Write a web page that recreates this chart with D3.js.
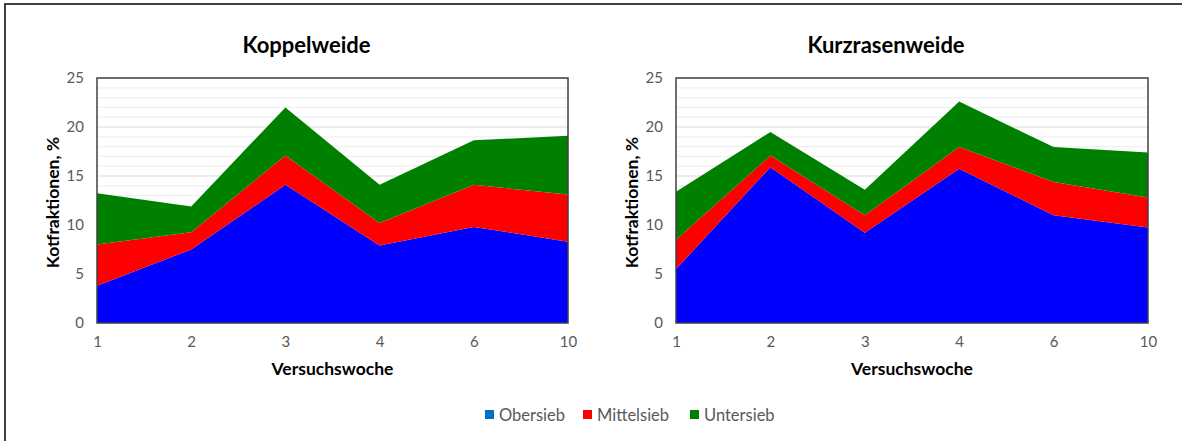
<!DOCTYPE html>
<html>
<head>
<meta charset="utf-8">
<script src="https://cdn.jsdelivr.net/npm/d3@7"></script>
<style>
  body { margin: 0; background: #fff; overflow: hidden; }
  text { font-family: Lato, "Open Sans", sans-serif; }
</style>
</head>
<body>
<script>
// categories (Versuchswoche)
let weeks = ['1', '2', '3', '4', '6', '10'];
let seriesNames = ['Obersieb', 'Mittelsieb', 'Untersieb'];
let yTicks = [0, 5, 10, 15, 20, 25];

// Koppelweide
let koppelOber = [3.8, 7.5, 14.1, 7.9, 9.8, 8.3];
let koppelMittel = [4.2, 1.75, 3.0, 2.3, 4.3, 4.8];
let koppelUnter = [5.25, 2.65, 4.9, 3.9, 4.55, 6.0];

// Kurzrasenweide
let kurzOber = [5.5, 15.9, 9.2, 15.75, 11.0, 9.75];
let kurzMittel = [3.0, 1.2, 1.8, 2.2, 3.4, 3.05];
let kurzUnter = [4.9, 2.4, 2.6, 4.65, 3.55, 4.6];

let areaColors = ['#0000ff', '#ff0000', '#008000'];
let legendColors = ['#0070c0', '#ff0000', '#008000'];

let width = 1182;
let height = 441;

let svg = d3.select('body')
    .append('svg')
    .attr('width', width)
    .attr('height', height)
    .style('display', 'block');

// outer frame (cropped on right/bottom)
svg.append('rect')
    .attr('x', 5).attr('y', 4)
    .attr('width', width + 10).attr('height', height + 10)
    .attr('fill', 'none')
    .attr('stroke', '#000')
    .attr('stroke-width', 1.5);

function drawChart(title, left, right, ober, mittel, unter) {
    let top = 78, bottom = 323;

    let x = d3.scalePoint()
        .domain(weeks)
        .range([left, right]);

    let y = d3.scaleLinear()
        .domain([0, 25])
        .range([bottom, top]);

    let rows = weeks.map((w, i) => ({
        week: w, Obersieb: ober[i], Mittelsieb: mittel[i], Untersieb: unter[i]
    }));

    let stacked = d3.stack().keys(seriesNames)(rows);

    let g = svg.append('g');

    // minor gridlines
    g.selectAll('.minor')
        .data(d3.range(1, 25).filter(v => v % 5 !== 0))
        .enter()
            .append('line')
            .attr('x1', left).attr('x2', right)
            .attr('y1', d => y(d)).attr('y2', d => y(d))
            .attr('stroke', '#f0f0f0')
            .attr('stroke-width', 1.2);

    // major gridlines
    g.selectAll('.major')
        .data(yTicks)
        .enter()
            .append('line')
            .attr('x1', left).attr('x2', right)
            .attr('y1', d => y(d)).attr('y2', d => y(d))
            .attr('stroke', '#d9d9d9')
            .attr('stroke-width', 1.2);

    let area = d3.area()
        .x(d => x(d.data.week))
        .y0(d => y(d[0]))
        .y1(d => y(d[1]));

    g.selectAll('.layer')
        .data(stacked)
        .enter()
            .append('path')
            .attr('d', area)
            .attr('fill', (d, i) => areaColors[i]);

    // plot border
    g.append('rect')
        .attr('x', left).attr('y', top)
        .attr('width', right - left).attr('height', bottom - top)
        .attr('fill', 'none')
        .attr('stroke', '#404040')
        .attr('stroke-width', 1.5);

    // y tick labels
    let yAxis = d3.axisLeft(y).tickValues(yTicks).tickSize(0).tickPadding(13);
    let ya = g.append('g')
        .attr('transform', `translate(${left},0)`)
        .call(yAxis);
    ya.select('.domain').remove();
    ya.selectAll('text')
        .attr('fill', '#595959')
        .style('font-size', '15px');

    // x tick labels
    let xAxis = d3.axisBottom(x).tickSize(0).tickPadding(13);
    let xa = g.append('g')
        .attr('transform', `translate(0,${bottom})`)
        .call(xAxis);
    xa.select('.domain').remove();
    xa.selectAll('text')
        .attr('fill', '#595959')
        .style('font-size', '15px');

    // title
    g.append('text')
        .attr('x', (left + right) / 2 - 26)
        .attr('y', 53)
        .attr('text-anchor', 'middle')
        .style('font-size', '22px')
        .style('font-weight', 'bold')
        .text(title);

    // x axis title
    g.append('text')
        .attr('x', (left + right) / 2)
        .attr('y', 375)
        .attr('text-anchor', 'middle')
        .style('font-size', '17.5px')
        .style('font-weight', 'bold')
        .text('Versuchswoche');

    // y axis title
    g.append('text')
        .attr('transform', `translate(${left - 38},${(top + bottom) / 2 + 2}) rotate(-90)`)
        .attr('text-anchor', 'middle')
        .style('font-size', '17.5px')
        .style('font-weight', 'bold')
        .text('Kotfraktionen, %');
}

drawChart('Koppelweide', 97, 568, koppelOber, koppelMittel, koppelUnter);
drawChart('Kurzrasenweide', 676, 1148, kurzOber, kurzMittel, kurzUnter);

// legend
let legendX = [485, 583, 690];
let legend = svg.selectAll('.legend')
    .data(seriesNames)
    .enter()
        .append('g')
        .attr('transform', (d, i) => `translate(${legendX[i]},415)`);

legend.append('rect')
    .attr('x', 0).attr('y', -5)
    .attr('width', 9).attr('height', 9)
    .attr('fill', (d, i) => legendColors[i]);

legend.append('text')
    .attr('x', 14)
    .attr('y', 5.5)
    .attr('fill', '#595959')
    .style('font-size', '16.5px')
    .text(d => d);
</script>
</body>
</html>
